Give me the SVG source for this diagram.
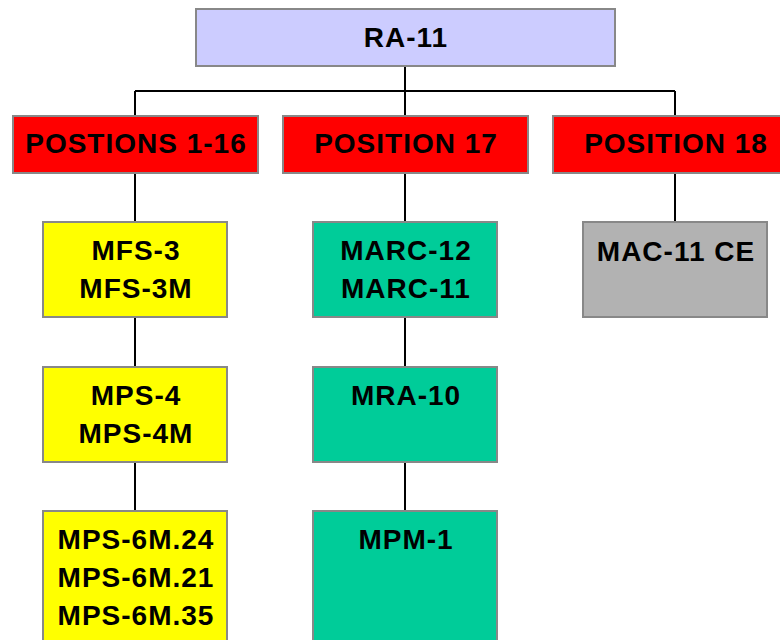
<svg xmlns="http://www.w3.org/2000/svg" width="780" height="640" viewBox="0 0 780 640">
<style>
.b{stroke:#888888;stroke-width:2}
.t{font-family:"Liberation Sans",Arial,sans-serif;font-weight:bold;font-size:28px;letter-spacing:1px;text-anchor:middle;fill:#000}
.c{stroke:#000;stroke-width:2;fill:none}
</style>
<rect width="780" height="640" fill="#fff"/>
<g id="connectors">
<path class="c" d="M405 66V116M135 91H675M135 91V116M675 91V116M135 173V222M135 317V367M135 462V511M405 173V222M405 317V367M405 462V511M675 173V222"/>
</g>
<g id="ra11"><rect class="b" x="196" y="9" width="419" height="57" fill="#CCCCFF"/><text class="t" x="406" y="47">RA-11</text></g>
<g id="pos1-16"><rect class="b" x="13" y="116" width="245" height="57" fill="#FF0000"/><text class="t" x="136" y="153">POSTIONS 1-16</text></g>
<g id="pos17"><rect class="b" x="283" y="116" width="245" height="57" fill="#FF0000"/><text class="t" x="406" y="153">POSITION 17</text></g>
<g id="pos18"><rect class="b" x="553" y="116" width="245" height="57" fill="#FF0000"/><text class="t" x="676" y="153">POSITION 18</text></g>
<g id="mfs3"><rect class="b" x="43" y="222" width="184" height="95" fill="#FFFF00"/><text class="t" x="136" y="260">MFS-3</text><text class="t" x="136" y="298">MFS-3M</text></g>
<g id="mps4"><rect class="b" x="43" y="367" width="184" height="95" fill="#FFFF00"/><text class="t" x="136" y="405">MPS-4</text><text class="t" x="136" y="443">MPS-4M</text></g>
<g id="mps6m"><rect class="b" x="43" y="511" width="184" height="140" fill="#FFFF00"/><text class="t" x="136" y="549">MPS-6M.24</text><text class="t" x="136" y="587">MPS-6M.21</text><text class="t" x="136" y="625">MPS-6M.35</text></g>
<g id="marc"><rect class="b" x="313" y="222" width="184" height="95" fill="#00CC99"/><text class="t" x="406" y="260">MARC-12</text><text class="t" x="406" y="298">MARC-11</text></g>
<g id="mra10"><rect class="b" x="313" y="367" width="184" height="95" fill="#00CC99"/><text class="t" x="406" y="405">MRA-10</text></g>
<g id="mpm1"><rect class="b" x="313" y="511" width="184" height="140" fill="#00CC99"/><text class="t" x="406" y="549">MPM-1</text></g>
<g id="mac11"><rect class="b" x="583" y="222" width="184" height="95" fill="#B2B2B2"/><text class="t" x="676" y="261">MAC-11 CE</text></g>
</svg>
